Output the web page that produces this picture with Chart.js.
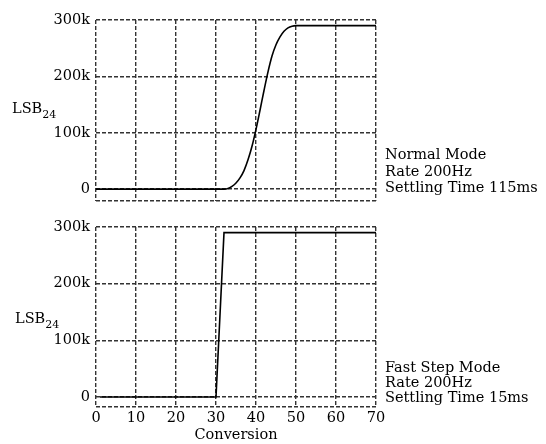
<!DOCTYPE html>
<html>
<head>
<meta charset="utf-8">
<script src="https://cdn.jsdelivr.net/npm/chart.js@4/dist/chart.umd.min.js"></script>
<style>
  html, body { margin: 0; padding: 0; background: #fff; }
  #wrap { position: relative; width: 546px; height: 444px; font-family: "DejaVu Serif", serif; color: #000; }
  canvas { position: absolute; left: 0; }
  .lbl { position: absolute; font-size: 14.5px; line-height: 16px; white-space: nowrap; }
  .lbl sub { font-size: 11px; vertical-align: -5px; line-height: 0; }
</style>
</head>
<body>
<div id="wrap">
  <canvas id="c1" width="546" height="210" style="top:0"></canvas>
  <canvas id="c2" width="546" height="234" style="top:210px"></canvas>
  <div class="lbl" style="left:12px; top:100px;">LSB<sub>24</sub></div>
  <div class="lbl" style="left:15px; top:310px;">LSB<sub>24</sub></div>
  <div class="lbl" style="left:385px; top:146px; line-height:16.5px;">Normal Mode<br>Rate 200Hz<br>Settling Time 115ms</div>
  <div class="lbl" style="left:385px; top:360px; line-height:15px;">Fast Step Mode<br>Rate 200Hz<br>Settling Time 15ms</div>
</div>
<script>
// ---- data ----
const conversions = [0,1,2,3,4,5,6,7,8,9,10,11,12,13,14,15,16,17,18,19,20,21,22,23,24,25,26,27,28,29,30,31,32,33,34,35,36,37,38,39,40,41,42,43,44,45,46,47,48,49,50,51,52,53,54,55,56,57,58,59,60,61,62,63,64,65,66,67,68,69,70];
const normalMode = [0,0,0,0,0,0,0,0,0,0,0,0,0,0,0,0,0,0,0,0,0,0,0,0,0,0,0,0,0,0,0,0,0,1000,5000,11000,20000,33000,52000,76000,106000,140000,175000,208000,236000,256000,270000,280000,286000,289000,290000,290000,290000,290000,290000,290000,290000,290000,290000,290000,290000,290000,290000,290000,290000,290000,290000,290000,290000,290000,290000];
const fastConv = [1,2,3,4,5,6,7,8,9,10,11,12,13,14,15,16,17,18,19,20,21,22,23,24,25,26,27,28,29,30,32,33,34,35,36,37,38,39,40,41,42,43,44,45,46,47,48,49,50,51,52,53,54,55,56,57,58,59,60,61,62,63,64,65,66,67,68,69,70];
const fastStep = [0,0,0,0,0,0,0,0,0,0,0,0,0,0,0,0,0,0,0,0,0,0,0,0,0,0,0,0,0,0,290000,290000,290000,290000,290000,290000,290000,290000,290000,290000,290000,290000,290000,290000,290000,290000,290000,290000,290000,290000,290000,290000,290000,290000,290000,290000,290000,290000,290000,290000,290000,290000,290000,290000,290000,290000,290000,290000,290000];
const yTicks = [0, 100000, 200000, 300000];
const xTicks = [0, 10, 20, 30, 40, 50, 60, 70];

const FONT = { family: "DejaVu Serif", size: 14.5 };
const GRID = '#333';
const DASH = [4, 2];

function makeChart(id, xs, ys, yMin, opts) {
  const pts = xs.map((x, i) => ({ x: x, y: ys[i] }));
  return new Chart(document.getElementById(id), {
    type: 'line',
    data: { datasets: [{ data: pts, borderColor: '#000', borderWidth: 1.6, pointRadius: 0,
      fill: false, cubicInterpolationMode: opts.smooth ? 'monotone' : 'default', tension: 0 }] },
    options: {
      responsive: false, animation: false, devicePixelRatio: 1,
      layout: { padding: { top: opts.padTop, right: 170, left: 0, bottom: 0 } },
      plugins: { legend: { display: false }, tooltip: { enabled: false } },
      scales: {
        x: {
          type: 'linear', min: 0, max: 70,
          afterBuildTicks: s => { s.ticks = xTicks.map(v => ({ value: v })); },
          afterFit: s => { s.height = opts.xHeight; },
          grid: { color: GRID, lineWidth: 1.4, drawTicks: false },
          border: { display: false, dash: DASH },
          ticks: { display: opts.xLabels, color: '#000', font: FONT, padding: 3, maxRotation: 0 },
          title: { display: opts.xLabels, text: 'Conversion', color: '#000', font: FONT, padding: 0 }
        },
        y: {
          min: yMin, max: 300000,
          afterBuildTicks: s => { s.ticks = [yMin].concat(yTicks).map(v => ({ value: v })); },
          afterFit: s => { s.width = 96; },
          grid: { color: GRID, lineWidth: 1.4, drawTicks: false },
          border: { display: false, dash: DASH },
          ticks: { color: '#000', padding: 6,
            font: ctx => (ctx.tick && ctx.tick.value < 0 ? { family: FONT.family, size: 1 } : FONT),
            callback: v => (v < 0 ? '' : (v === 0 ? '0' : (v / 1000) + 'k')) }
        }
      }
    }
  });
}

makeChart('c1', conversions, normalMode, -21000, { smooth: true, padTop: 20, xHeight: 9, xLabels: false });
makeChart('c2', fastConv, fastStep, -17600, { smooth: false, padTop: 17, xHeight: 37, xLabels: true });
</script>
</body>
</html>
